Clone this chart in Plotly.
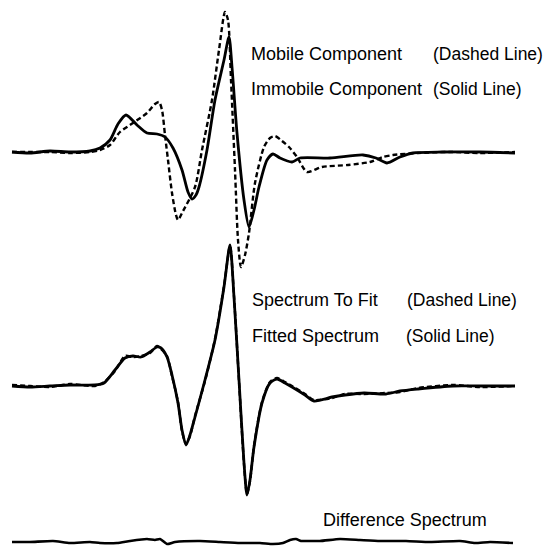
import plotly.graph_objects as go

# ---- data (field in arbitrary units, amplitude in arbitrary units) ----
TOP_SOLID_FIELD = [0, 3.6, 7.6, 11.6, 15.6, 17.6, 19.6, 21.2, 22.8, 25, 27, 29, 30.6, 32.2, 34, 35.2, 36, 36.8, 37.4,
                   39, 40.6, 42.4, 43.4, 44, 45, 46.4, 47.4, 48.4, 49.4, 51, 52.2, 53.6, 56, 57.6, 63.6, 70.2, 72.8,
                   75, 77.6, 80.2, 86, 93.6, 100.6]
TOP_SOLID_AMP = [0, -1, 1, 0, 1, 4, 12, 28, 37, 27, 19, 18, 15, 4, -18, -40, -47, -43, -35,
                 2, 52, 92, 115, 85, 19, -48, -75, -58, -35, -8, -2, -6, -10, -6, -6, -3, -6,
                 -11, -5, -1, 0, 0, -1]

TOP_DASHED_FIELD = [0, 3.6, 7.6, 11.6, 15.6, 17.6, 19.6, 21.6, 24.2, 27, 28.6, 29.4, 30, 30.6, 31.2, 32, 32.8, 33.2,
                    34, 36.6, 38, 40, 41.4, 42.6, 43.2, 43.8, 44.6, 45.2, 45.8, 46.6, 47.4, 48.6, 50.4, 51.6, 52.6,
                    54, 55.4, 57, 59, 62, 67.2, 71.6, 74.2, 76.2, 81.2, 87.6, 93.6, 100.6]
TOP_DASHED_AMP = [0, 0, 0, -1, 0, 2, 7, 20, 29, 39, 48, 50, 42, 17, -8, -41, -63, -68,
                  -61, -35, 2, 52, 102, 140, 132, 72, -18, -88, -115, -103, -81, -31, 5, 14, 16,
                  11, 5, -5, -20, -15, -13, -10, -5, -3, -1, 0, -1, 0]

MID_FIELD = [0, 3.6, 7.6, 11.6, 16.6, 18.4, 20.6, 22.6, 24.2, 25.8, 27.6, 29, 29.8, 31, 32, 33.2, 34, 34.8, 35.6,
             36.6, 38.6, 40.6, 42.4, 43.6, 44.4, 45.4, 46.4, 47, 47.6, 48.4, 50, 51.6, 53, 54.6, 56, 58.6, 60.4,
             64, 66.6, 70.4, 74.8, 77.6, 81.2, 88.2, 93.6, 100.6]
MID_FIT_AMP = [0, -1, 0, 1, 1, 3, 16, 28, 30, 29, 34, 39, 38, 29, 11, -17, -44, -59, -49,
               -31, 6, 46, 99, 141, 89, 6, -77, -109, -94, -61, -17, 3, 7, 3, -1, -9, -15,
               -11, -9, -7, -8, -5, -3, 0, 0, 0]
MID_DATA_AMP = [1, 0, -1, 2, 0, 4, 15, 30, 29, 30, 33, 40, 37, 30, 10, -16, -45, -58, -50,
                -30, 5, 47, 100, 140, 90, 5, -78, -108, -95, -60, -16, 4, 8, 4, 0, -8, -14,
                -12, -8, -8, -7, -6, -2, 1, -1, 0]

DIFF_FIELD = [0, 3.6, 8.2, 11.6, 15.6, 17.6, 21, 23.6, 27, 28.6, 29.6, 31, 32.6, 37.6, 41.6, 45.6, 49.6, 52.2,
              54.2, 55.6, 56.8, 57.8, 58.8, 61.6, 65.6, 69.6, 73.6, 78.8, 83.6, 89.6, 92.6, 95.6, 100.2]
DIFF_AMP = [0, 0, 1, -1, 0, -1, -1, 1, 3, 2, 3, -2, 0, 1, 0, -1, -1, -2,
            -1, 2, 3, 1, 1, 1, 3, 2, 1, 1, 0, 1, -1, 0, -1]

LABELS = ["Mobile Component", "(Dashed Line)", "Immobile Component", "(Solid Line)",
          "Spectrum To Fit", "(Dashed Line)", "Fitted Spectrum", "(Solid Line)",
          "Difference Spectrum"]

# ---- layout constants (positions, not data) ----
W = H = 546
TOP_OFF, MID_OFF, DIFF_OFF = 394, 160, 4

def shifted(vals, off):
    return [v + off for v in vals]

solid = dict(color="black", width=2.8, shape="spline", smoothing=0.7)
dashed = dict(color="black", width=2.4, dash="5px,3px", shape="spline", smoothing=0.7)

fig = go.Figure()
fig.add_trace(go.Scatter(x=TOP_DASHED_FIELD, y=shifted(TOP_DASHED_AMP, TOP_OFF), mode="lines", line=dashed))
fig.add_trace(go.Scatter(x=TOP_SOLID_FIELD, y=shifted(TOP_SOLID_AMP, TOP_OFF), mode="lines", line=solid))
fig.add_trace(go.Scatter(x=MID_FIELD, y=shifted(MID_DATA_AMP, MID_OFF), mode="lines", line=dashed))
fig.add_trace(go.Scatter(x=MID_FIELD, y=shifted(MID_FIT_AMP, MID_OFF), mode="lines", line=solid))
fig.add_trace(go.Scatter(x=DIFF_FIELD, y=shifted(DIFF_AMP, DIFF_OFF), mode="lines",
                         line=dict(color="black", width=2.6, shape="spline", smoothing=0.5)))

label_pos = [(249, 54, 18), (431, 54, 17.5), (249, 89, 18), (431, 89, 17.5),
             (250, 300, 18), (405, 300, 17.5), (250, 336, 18), (404, 336, 17.5), (321, 520, 18)]
for txt, (px, py, fs) in zip(LABELS, label_pos):
    fig.add_annotation(x=px / W, y=1 - py / H, xref="paper", yref="paper", text=txt,
                       showarrow=False, xanchor="left", yanchor="middle",
                       font=dict(family="Liberation Sans, Arial, sans-serif", size=fs, color="black"))

fig.update_layout(
    width=W, height=H, margin=dict(l=0, r=0, t=0, b=0),
    paper_bgcolor="white", plot_bgcolor="white", showlegend=False,
    xaxis=dict(range=[-2.4, 106.8], visible=False, fixedrange=True),
    yaxis=dict(range=[0, 546], visible=False, fixedrange=True),
)
fig.write_html("out.html")
